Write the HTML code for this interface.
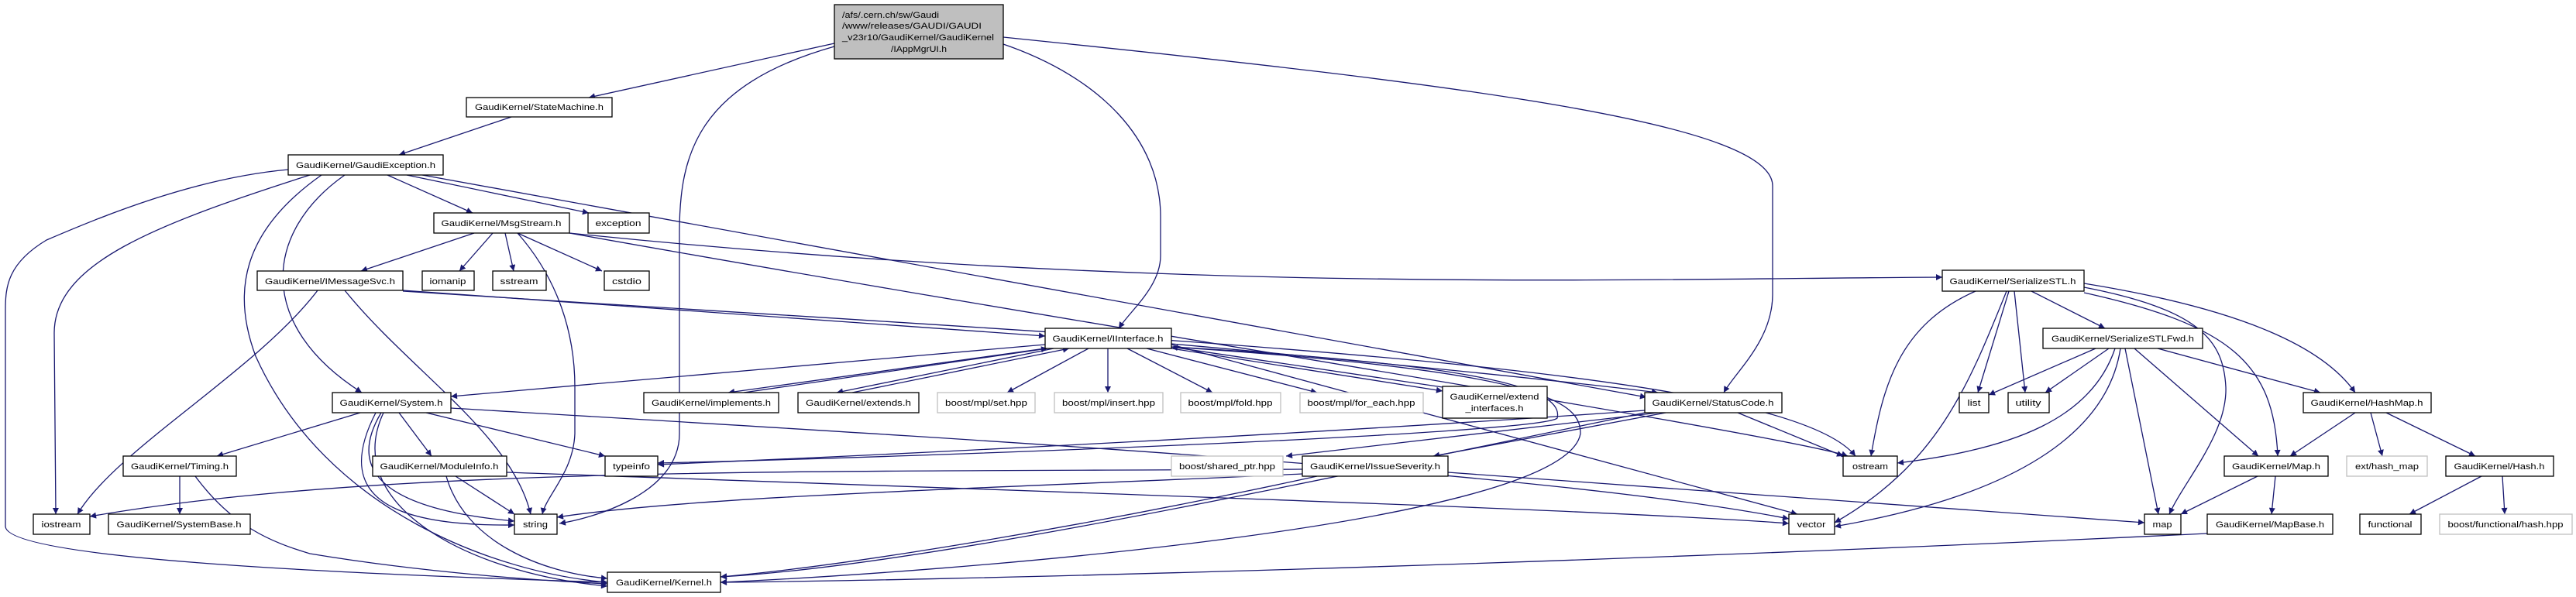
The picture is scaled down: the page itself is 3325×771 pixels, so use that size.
<!DOCTYPE html>
<html><head><meta charset="utf-8"><style>
html,body{margin:0;padding:0;background:#fff;}
svg{display:block;}
text{font-family:"Liberation Sans",sans-serif;font-size:11px;fill:#000;}
.e{fill:none;stroke:#191970;stroke-width:1.3;marker-end:url(#a);}
.n{fill:#fff;stroke:#000;stroke-width:1.3;}
.g{fill:#fff;stroke:#bfbfbf;stroke-width:1.3;}
</style></head><body>
<svg width="3325" height="771" viewBox="0 0 3325 771" xmlns="http://www.w3.org/2000/svg">
<defs><marker id="a" viewBox="0 0 10 10" refX="10" refY="5" markerWidth="10" markerHeight="8" markerUnits="userSpaceOnUse" orient="auto"><path d="M0,0 L10,5 L0,10 z" fill="#191970"/></marker></defs>
<g>
<path class="e" d="M1077,56 L760,126"/>
<path class="e" d="M1077,60 C900,110 877,200 877,300 L877,560 C877,640 760,670 722,676"/>
<path class="e" d="M1295,57 C1420,100 1498,180 1498,280 L1498,330 C1498,370 1460,400 1444,424"/>
<path class="e" d="M1295,48 C1900,110 2288,160 2288,240 L2288,380 C2288,440 2240,480 2225,507"/>
<path class="e" d="M660,151 L515,200"/>
<path class="e" d="M372,219 C250,230 130,280 60,310 C10,340 7,370 7,400 L7,680 C10,720 400,740 784,752"/>
<path class="e" d="M400,226 C200,290 70,340 70,430 L72,664"/>
<path class="e" d="M445,226 C340,300 330,420 467,507"/>
<path class="e" d="M415,226 C310,300 300,380 330,460 C420,660 640,740 784,752"/>
<path class="e" d="M500,226 L610,275"/>
<path class="e" d="M525,226 L760,275"/>
<path class="e" d="M545,226 L2125,513"/>
<path class="e" d="M612,301 L466,350"/>
<path class="e" d="M636,301 L593,350"/>
<path class="e" d="M652,301 L663,350"/>
<path class="e" d="M668,301 L777,350"/>
<path class="e" d="M668,301 C720,360 742,430 742,500 L742,560 C740,610 705,640 700,664"/>
<path class="e" d="M735,301 C1500,380 2100,360 2507,358"/>
<path class="e" d="M735,301 C1400,420 2300,560 2385,589"/>
<path class="e" d="M520,375 L1349,434"/>
<path class="e" d="M410,375 C330,480 150,580 100,664"/>
<path class="e" d="M445,375 C530,480 660,560 685,664"/>
<path class="e" d="M520,376 C1500,440 2300,470 2395,589"/>
<path class="e" d="M1349,445 L582,512"/>
<path class="e" d="M1349,450 L940,507"/>
<path class="e" d="M960,507 L1352,450"/>
<path class="e" d="M1360,450 L1080,507"/>
<path class="e" d="M1100,507 L1380,450"/>
<path class="e" d="M1405,450 L1300,507"/>
<path class="e" d="M1430,450 L1430,507"/>
<path class="e" d="M1455,450 L1565,507"/>
<path class="e" d="M1480,450 L1700,507"/>
<path class="e" d="M1512,450 L1862,505"/>
<path class="e" d="M1862,500 L1512,448"/>
<path class="e" d="M1512,444 C1800,470 2000,490 2140,507"/>
<path class="e" d="M1512,448 C1900,470 2020,500 2010,540 C1990,560 1200,590 849,598"/>
<path class="e" d="M1512,448 C2000,480 2040,520 2040,560 C2020,680 1200,740 930,752"/>
<path class="e" d="M1512,445 L2320,664"/>
<path class="e" d="M2243,533 L2379,589"/>
<path class="e" d="M2150,533 L1850,589"/>
<path class="e" d="M2140,533 L1660,589"/>
<path class="e" d="M2123,530 C1700,560 1200,585 849,600"/>
<path class="e" d="M2123,533 C1700,620 1200,730 930,745"/>
<path class="e" d="M465,533 L280,589"/>
<path class="e" d="M515,533 L557,589"/>
<path class="e" d="M550,533 L781,589"/>
<path class="e" d="M492,533 C440,620 520,660 664,673"/>
<path class="e" d="M485,533 C430,640 500,680 664,678"/>
<path class="e" d="M495,533 C440,650 600,740 784,757"/>
<path class="e" d="M582,527 C1300,570 2000,610 2309,670"/>
<path class="e" d="M232,615 L232,664"/>
<path class="e" d="M252,615 C300,680 350,700 400,715 C550,740 700,750 784,754"/>
<path class="e" d="M588,615 L664,664"/>
<path class="e" d="M576,615 C600,700 700,740 784,747"/>
<path class="e" d="M654,610 C1500,640 2100,660 2309,676"/>
<path class="e" d="M1681,612 C1300,630 900,640 719,668"/>
<path class="e" d="M1700,615 C1400,680 1100,730 930,745"/>
<path class="e" d="M1681,606 C1100,610 500,600 116,667"/>
<path class="e" d="M1869,610 L2768,675"/>
<path class="e" d="M2550,376 C2450,420 2430,500 2415,589"/>
<path class="e" d="M2590,376 C2540,500 2500,600 2368,675"/>
<path class="e" d="M2593,376 L2553,507"/>
<path class="e" d="M2600,376 L2614,507"/>
<path class="e" d="M2622,376 L2717,424"/>
<path class="e" d="M2690,371 C2840,400 2870,440 2873,500 C2875,560 2820,620 2800,664"/>
<path class="e" d="M2690,378 C2880,420 2935,470 2940,589"/>
<path class="e" d="M2690,366 C2900,400 3000,450 3040,507"/>
<path class="e" d="M2705,450 L2567,510"/>
<path class="e" d="M2722,450 L2640,507"/>
<path class="e" d="M2730,450 C2700,540 2600,580 2449,598"/>
<path class="e" d="M2737,450 C2720,560 2600,640 2368,680"/>
<path class="e" d="M2743,450 L2786,664"/>
<path class="e" d="M2755,450 L2915,589"/>
<path class="e" d="M2785,450 L2995,507"/>
<path class="e" d="M3040,533 L2956,589"/>
<path class="e" d="M3060,533 L3075,589"/>
<path class="e" d="M3080,533 L3195,589"/>
<path class="e" d="M2914,615 L2815,664"/>
<path class="e" d="M2937,615 L2932,664"/>
<path class="e" d="M2849,689 C2000,730 1200,750 930,752"/>
<path class="e" d="M3203,615 L3110,664"/>
<path class="e" d="M3230,615 L3233,664"/>
</g>
<g>
<rect x="1077" y="6" width="218" height="70" fill="#bfbfbf" stroke="#000" stroke-width="1.3"/>
<text x="1087" y="23" textLength="125" lengthAdjust="spacingAndGlyphs">/afs/.cern.ch/sw/Gaudi</text>
<text x="1087" y="37" textLength="180" lengthAdjust="spacingAndGlyphs">/www/releases/GAUDI/GAUDI</text>
<text x="1087" y="52" textLength="196" lengthAdjust="spacingAndGlyphs">_v23r10/GaudiKernel/GaudiKernel</text>
<text x="1186" y="67" text-anchor="middle" textLength="72" lengthAdjust="spacingAndGlyphs">/IAppMgrUI.h</text>
</g>
<g>
<rect class="n" x="602" y="126" width="188" height="25"/><text x="696" y="142" text-anchor="middle" textLength="166" lengthAdjust="spacingAndGlyphs">GaudiKernel/StateMachine.h</text>
<rect class="n" x="372" y="200" width="200" height="26"/><text x="472" y="217" text-anchor="middle" textLength="180" lengthAdjust="spacingAndGlyphs">GaudiKernel/GaudiException.h</text>
<rect class="n" x="560" y="275" width="175" height="26"/><text x="647" y="292" text-anchor="middle" textLength="155" lengthAdjust="spacingAndGlyphs">GaudiKernel/MsgStream.h</text>
<rect class="n" x="759" y="275" width="79" height="26"/><text x="798" y="292" text-anchor="middle" textLength="59" lengthAdjust="spacingAndGlyphs">exception</text>
<rect class="n" x="332" y="350" width="188" height="25"/><text x="426" y="367" text-anchor="middle" textLength="168" lengthAdjust="spacingAndGlyphs">GaudiKernel/IMessageSvc.h</text>
<rect class="n" x="545" y="350" width="67" height="25"/><text x="578" y="367" text-anchor="middle" textLength="47" lengthAdjust="spacingAndGlyphs">iomanip</text>
<rect class="n" x="636" y="350" width="69" height="25"/><text x="670" y="367" text-anchor="middle" textLength="49" lengthAdjust="spacingAndGlyphs">sstream</text>
<rect class="n" x="780" y="350" width="58" height="25"/><text x="809" y="367" text-anchor="middle" textLength="38" lengthAdjust="spacingAndGlyphs">cstdio</text>
<rect class="n" x="1349" y="424" width="163" height="26"/><text x="1430" y="441" text-anchor="middle" textLength="143" lengthAdjust="spacingAndGlyphs">GaudiKernel/IInterface.h</text>
<rect class="n" x="2507" y="349" width="183" height="27"/><text x="2598" y="367" text-anchor="middle" textLength="163" lengthAdjust="spacingAndGlyphs">GaudiKernel/SerializeSTL.h</text>
<rect class="n" x="429" y="507" width="153" height="26"/><text x="505" y="524" text-anchor="middle" textLength="133" lengthAdjust="spacingAndGlyphs">GaudiKernel/System.h</text>
<rect class="n" x="831" y="507" width="174" height="26"/><text x="918" y="524" text-anchor="middle" textLength="154" lengthAdjust="spacingAndGlyphs">GaudiKernel/implements.h</text>
<rect class="n" x="1030" y="507" width="156" height="26"/><text x="1108" y="524" text-anchor="middle" textLength="136" lengthAdjust="spacingAndGlyphs">GaudiKernel/extends.h</text>
<rect class="g" x="1210" y="507" width="126" height="26"/><text x="1273" y="524" text-anchor="middle" textLength="106" lengthAdjust="spacingAndGlyphs">boost/mpl/set.hpp</text>
<rect class="g" x="1361" y="507" width="140" height="26"/><text x="1431" y="524" text-anchor="middle" textLength="120" lengthAdjust="spacingAndGlyphs">boost/mpl/insert.hpp</text>
<rect class="g" x="1524" y="507" width="129" height="26"/><text x="1588" y="524" text-anchor="middle" textLength="109" lengthAdjust="spacingAndGlyphs">boost/mpl/fold.hpp</text>
<rect class="g" x="1678" y="507" width="159" height="26"/><text x="1757" y="524" text-anchor="middle" textLength="139" lengthAdjust="spacingAndGlyphs">boost/mpl/for_each.hpp</text>
<rect class="n" x="1862" y="499" width="135" height="41"/><text x="1929" y="516" text-anchor="middle" textLength="115" lengthAdjust="spacingAndGlyphs">GaudiKernel/extend</text><text x="1929" y="531" text-anchor="middle" textLength="75" lengthAdjust="spacingAndGlyphs">_interfaces.h</text>
<rect class="n" x="2123" y="507" width="177" height="26"/><text x="2211" y="524" text-anchor="middle" textLength="157" lengthAdjust="spacingAndGlyphs">GaudiKernel/StatusCode.h</text>
<rect class="n" x="2637" y="424" width="206" height="26"/><text x="2740" y="441" text-anchor="middle" textLength="184" lengthAdjust="spacingAndGlyphs">GaudiKernel/SerializeSTLFwd.h</text>
<rect class="n" x="2529" y="507" width="38" height="26"/><text x="2548" y="524" text-anchor="middle" textLength="17" lengthAdjust="spacingAndGlyphs">list</text>
<rect class="n" x="2592" y="507" width="53" height="26"/><text x="2618" y="524" text-anchor="middle" textLength="33" lengthAdjust="spacingAndGlyphs">utility</text>
<rect class="n" x="2973" y="507" width="165" height="26"/><text x="3055" y="524" text-anchor="middle" textLength="145" lengthAdjust="spacingAndGlyphs">GaudiKernel/HashMap.h</text>
<rect class="n" x="159" y="589" width="146" height="26"/><text x="232" y="606" text-anchor="middle" textLength="126" lengthAdjust="spacingAndGlyphs">GaudiKernel/Timing.h</text>
<rect class="n" x="481" y="589" width="173" height="26"/><text x="567" y="606" text-anchor="middle" textLength="153" lengthAdjust="spacingAndGlyphs">GaudiKernel/ModuleInfo.h</text>
<rect class="n" x="781" y="589" width="68" height="26"/><text x="815" y="606" text-anchor="middle" textLength="48" lengthAdjust="spacingAndGlyphs">typeinfo</text>
<rect class="g" x="1512" y="589" width="144" height="26"/><text x="1584" y="606" text-anchor="middle" textLength="124" lengthAdjust="spacingAndGlyphs">boost/shared_ptr.hpp</text>
<rect class="n" x="1681" y="589" width="188" height="26"/><text x="1775" y="606" text-anchor="middle" textLength="168" lengthAdjust="spacingAndGlyphs">GaudiKernel/IssueSeverity.h</text>
<rect class="n" x="2379" y="589" width="70" height="26"/><text x="2414" y="606" text-anchor="middle" textLength="46" lengthAdjust="spacingAndGlyphs">ostream</text>
<rect class="n" x="2871" y="589" width="134" height="26"/><text x="2938" y="606" text-anchor="middle" textLength="114" lengthAdjust="spacingAndGlyphs">GaudiKernel/Map.h</text>
<rect class="g" x="3029" y="589" width="104" height="26"/><text x="3081" y="606" text-anchor="middle" textLength="82" lengthAdjust="spacingAndGlyphs">ext/hash_map</text>
<rect class="n" x="3157" y="589" width="139" height="26"/><text x="3226" y="606" text-anchor="middle" textLength="117" lengthAdjust="spacingAndGlyphs">GaudiKernel/Hash.h</text>
<rect class="n" x="43" y="664" width="73" height="26"/><text x="79" y="681" text-anchor="middle" textLength="51" lengthAdjust="spacingAndGlyphs">iostream</text>
<rect class="n" x="140" y="664" width="183" height="26"/><text x="231" y="681" text-anchor="middle" textLength="161" lengthAdjust="spacingAndGlyphs">GaudiKernel/SystemBase.h</text>
<rect class="n" x="664" y="664" width="55" height="26"/><text x="691" y="681" text-anchor="middle" textLength="32" lengthAdjust="spacingAndGlyphs">string</text>
<rect class="n" x="2309" y="664" width="59" height="26"/><text x="2338" y="681" text-anchor="middle" textLength="37" lengthAdjust="spacingAndGlyphs">vector</text>
<rect class="n" x="2768" y="664" width="47" height="26"/><text x="2791" y="681" text-anchor="middle" textLength="25" lengthAdjust="spacingAndGlyphs">map</text>
<rect class="n" x="2849" y="664" width="162" height="26"/><text x="2930" y="681" text-anchor="middle" textLength="140" lengthAdjust="spacingAndGlyphs">GaudiKernel/MapBase.h</text>
<rect class="n" x="3046" y="664" width="79" height="26"/><text x="3085" y="681" text-anchor="middle" textLength="57" lengthAdjust="spacingAndGlyphs">functional</text>
<rect class="g" x="3149" y="664" width="171" height="26"/><text x="3234" y="681" text-anchor="middle" textLength="149" lengthAdjust="spacingAndGlyphs">boost/functional/hash.hpp</text>
<rect class="n" x="784" y="739" width="146" height="26"/><text x="857" y="756" text-anchor="middle" textLength="124" lengthAdjust="spacingAndGlyphs">GaudiKernel/Kernel.h</text>
</g>
</svg>
</body></html>
